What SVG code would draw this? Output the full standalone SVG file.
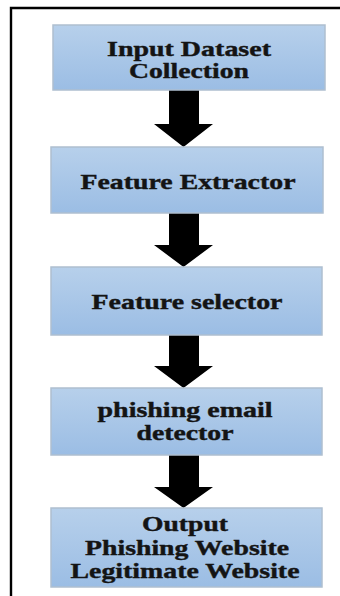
<svg xmlns="http://www.w3.org/2000/svg" width="340" height="596" viewBox="0 0 340 596">
  <defs>
    <linearGradient id="boxFill" x1="0" y1="0" x2="0" y2="1">
      <stop offset="0" stop-color="#b7d0eb"/>
      <stop offset="1" stop-color="#9bbde4"/>
    </linearGradient>
    <style>
      .box { fill: url(#boxFill); stroke: #aebfd0; stroke-width: 1.5; }
      .lbl { font-family: "Liberation Serif", "Times New Roman", serif; font-weight: bold; font-size: 21px; fill: #141414; stroke: #141414; stroke-width: 0.4; text-anchor: middle; }
      .arrow { fill: #000; }
      .frame { fill: none; stroke: #000; stroke-width: 2.4; }
    </style>
  </defs>

  <rect width="340" height="596" fill="#fff"/>
  <path class="frame" d="M11,596 V8 H340"/>

  <g id="connectors">
    <path class="arrow" d="M169,90 H199 V124 H213 L183.5,147 L154,124 H169 Z"/>
    <path class="arrow" d="M169,213 H199 V245 H213 L183.5,267 L154,245 H169 Z"/>
    <path class="arrow" d="M169,335 H199 V366 H213 L183.5,388 L154,366 H169 Z"/>
    <path class="arrow" d="M169,455 H199 V487 H213 L183.5,508 L154,487 H169 Z"/>
  </g>

  <g id="input-dataset">
    <rect class="box" x="53" y="25" width="272" height="65"/>
    <text class="lbl" x="189" y="55.5" textLength="164" lengthAdjust="spacingAndGlyphs">Input Dataset</text>
    <text class="lbl" x="189" y="78" textLength="120" lengthAdjust="spacingAndGlyphs">Collection</text>
  </g>

  <g id="feature-extractor">
    <rect class="box" x="51" y="147" width="272" height="66"/>
    <text class="lbl" x="188" y="188.5" textLength="215" lengthAdjust="spacingAndGlyphs">Feature Extractor</text>
  </g>

  <g id="feature-selector">
    <rect class="box" x="51" y="267" width="271" height="68"/>
    <text class="lbl" x="187" y="308.5" textLength="191" lengthAdjust="spacingAndGlyphs">Feature selector</text>
  </g>

  <g id="email-detector">
    <rect class="box" x="51" y="388" width="271" height="67"/>
    <text class="lbl" x="185" y="417" textLength="175" lengthAdjust="spacingAndGlyphs">phishing email</text>
    <text class="lbl" x="185" y="440" textLength="97" lengthAdjust="spacingAndGlyphs">detector</text>
  </g>

  <g id="output">
    <rect class="box" x="51" y="508" width="271" height="79"/>
    <text class="lbl" x="185" y="531" textLength="86" lengthAdjust="spacingAndGlyphs">Output</text>
    <text class="lbl" x="187" y="555" textLength="204" lengthAdjust="spacingAndGlyphs">Phishing Website</text>
    <text class="lbl" x="185" y="578" textLength="229" lengthAdjust="spacingAndGlyphs">Legitimate Website</text>
  </g>
</svg>
